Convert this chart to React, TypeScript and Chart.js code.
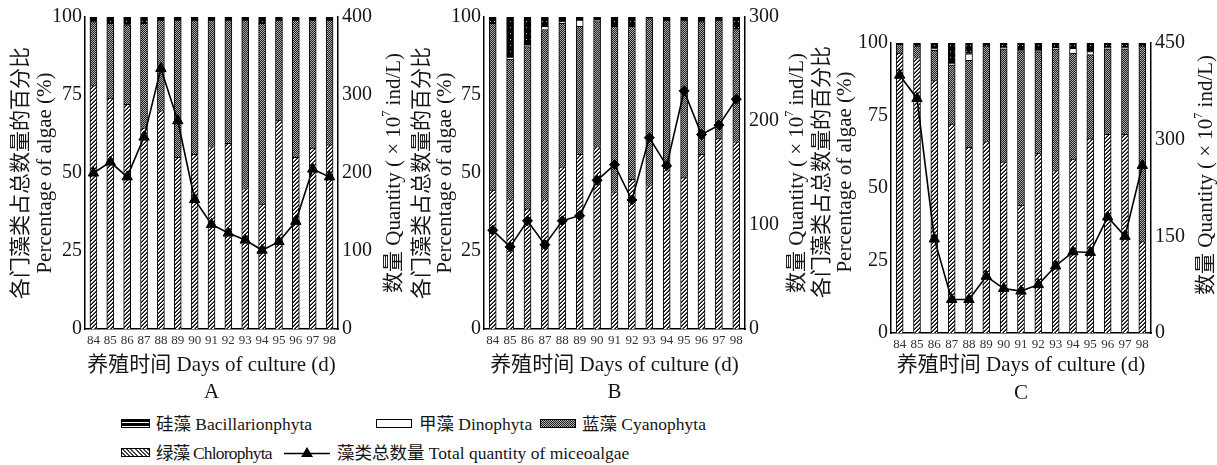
import React, { useEffect, useRef } from 'react';
import { Chart, registerables } from 'chart.js';
Chart.register(...registerables);

// ---------------- data ----------------
const days = ['84', '85', '86', '87', '88', '89', '90', '91', '92', '93', '94', '95', '96', '97', '98'];

// Panel A (% of algae per phylum, stacked) and total quantity (x10^7 ind/L)
const chloroA = [78, 74, 72, 64.5, 70, 55, 56, 58.5, 59.5, 45, 40, 67, 55, 58, 59];
const cyanoA = [20.5, 24, 25.5, 33.5, 29, 44, 43, 40.5, 39.5, 54, 58, 32, 44, 41, 40];
const dinoA = [0, 0, 0, 0, 0, 0, 0, 0, 0, 0, 0, 0, 0, 0, 0];
const bacA = [1.5, 2, 2.5, 2, 1, 1, 1, 1, 1, 1, 2, 1, 1, 1, 1];
const totalA = [200, 214, 195, 246, 334, 267, 166, 134, 123, 114, 101, 112, 138, 205, 195];

// Panel B
const chloroB = [44.5, 41.5, 38.5, 41.5, 52, 56, 58.5, 44, 48, 46, 53, 48.5, 56, 61, 60];
const cyanoB = [53.5, 45, 52, 54.5, 46, 41, 40, 53, 49, 53.5, 46, 50.5, 42.5, 38, 36];
const dinoB = [0, 0.5, 0.5, 1, 0.5, 2, 0.5, 0, 0, 0, 0, 0, 0, 0, 0];
const bacB = [2, 13, 9, 3, 1.5, 1, 1, 3, 3, 0.5, 1, 1, 1.5, 1, 4];
const totalB = [95, 79, 104, 81, 104, 109, 143, 158, 124, 184, 157, 229, 187, 196, 221];

// Panel C
const chloroC = [96.5, 95, 87, 72, 64, 66, 59, 44, 62, 56, 60, 67, 68.5, 68.5, 31.5];
const cyanoC = [3, 4, 10.5, 20.5, 30, 33, 39, 53, 35, 42, 36.5, 29, 29.5, 29.5, 67.5];
const dinoC = [0, 0, 0.5, 0.5, 2.3, 0, 0.5, 0.5, 0.5, 0.3, 1.7, 1, 0.5, 0.5, 0];
const bacC = [0.5, 1, 2, 7, 3.7, 1, 1.5, 2.5, 2.5, 1.7, 1.8, 3, 1.5, 1.5, 1];
const totalC = [400, 364, 146, 52, 52, 88, 69, 65, 75, 104, 126, 125, 180, 150, 260];

const pctTicks = [0, 25, 50, 75, 100];
const qMaxA = 400, qStepA = 100;
const qMaxB = 300, qStepB = 100;
const qMaxC = 450, qStepC = 150;

const X_TITLE = '养殖时间 Days of culture (d)';
const Y_TITLE_CN = '各门藻类占总数量的百分比';
const Y_TITLE_EN = 'Percentage of algae (%)';

// ---------------- styling ----------------
const FF = '"Liberation Serif", "Noto Sans CJK SC", serif';
const INK = '#151515';

const panels = [
  {
    letter: 'A', chloro: chloroA, cyano: cyanoA, dino: dinoA, bac: bacA, total: totalA,
    qMax: qMaxA, qStep: qStepA, marker: 'triangle',
    x: 0, w: 410, h: 410, area: { left: 85, right: 338, top: 17, bottom: 329 },
    leftX1: 21, leftX2: 45, yCY: 173, rightX: 394, rCY: 173, xTitleY: 365, letterY: 392,
  },
  {
    letter: 'B', chloro: chloroB, cyano: cyanoB, dino: dinoB, bac: bacB, total: totalB,
    qMax: qMaxB, qStep: qStepB, marker: 'rectRot',
    x: 400, w: 410, h: 410, area: { left: 84, right: 345, top: 17, bottom: 329 },
    leftX1: 22, leftX2: 45, yCY: 173, rightX: 397, rCY: 173, xTitleY: 365, letterY: 392,
  },
  {
    letter: 'C', chloro: chloroC, cyano: cyanoC, dino: dinoC, bac: bacC, total: totalC,
    qMax: qMaxC, qStep: qStepC, marker: 'triangle',
    x: 800, w: 417, h: 410, area: { left: 91, right: 351, top: 43, bottom: 333 },
    leftX1: 22, leftX2: 45, yCY: 172, rightX: 406, rCY: 175, xTitleY: 365, letterY: 393,
  },
];

function makePattern(ctx: CanvasRenderingContext2D, w: number, h: number, draw: (g: CanvasRenderingContext2D) => void) {
  const c = document.createElement('canvas');
  c.width = w;
  c.height = h;
  const g = c.getContext('2d')!;
  draw(g);
  return ctx.createPattern(c, 'repeat')!;
}

function PanelChart({ p }: { p: any }) {
  const ref = useRef<HTMLCanvasElement>(null);
  useEffect(() => {
    const canvas = ref.current!;
    const ctx = canvas.getContext('2d')!;
    const patChloro = makePattern(ctx, 4, 4, (g) => {
      g.fillStyle = '#fff';
      g.fillRect(0, 0, 4, 4);
      for (let x = 0; x < 4; x++)
        for (let y = 0; y < 4; y++) {
          const k = (x + y) % 4;
          if (k === 3) { g.fillStyle = '#000'; g.fillRect(x, y, 1, 1); }
          if (k === 2) { g.fillStyle = '#555'; g.fillRect(x, y, 1, 1); }
        }
    });
    const patCyano = makePattern(ctx, 2, 2, (g) => {
      g.fillStyle = '#222';
      g.fillRect(0, 0, 2, 2);
      g.fillStyle = '#ababab';
      g.fillRect(0, 0, 1, 1);
      g.fillRect(1, 1, 1, 1);
    });
    const patBac = makePattern(ctx, 4, 6, (g) => {
      g.fillStyle = '#000';
      g.fillRect(0, 0, 4, 6);
      g.fillStyle = '#bbb';
      g.fillRect(2, 3, 1, 1);
    });

    const textPlugin = {
      id: 'panelText',
      afterDraw(chart: any) {
        const c = chart.ctx as CanvasRenderingContext2D;
        const ca = chart.chartArea;
        c.save();
        c.fillStyle = INK;
        c.textBaseline = 'middle';
        c.textAlign = 'center';
        c.font = `21px ${FF}`;
        const cx = (ca.left + ca.right) / 2;
        c.fillText(X_TITLE, cx, p.xTitleY);
        c.fillText(p.letter, cx, p.letterY);
        c.save();
        c.translate(p.leftX1, p.yCY);
        c.rotate(-Math.PI / 2);
        c.fillText(Y_TITLE_CN, 0, 0);
        c.restore();
        c.save();
        c.translate(p.leftX2, p.yCY);
        c.rotate(-Math.PI / 2);
        c.fillText(Y_TITLE_EN, 0, 0);
        c.restore();
        // right title with superscript
        c.save();
        c.translate(p.rightX, p.rCY);
        c.rotate(-Math.PI / 2);
        c.textAlign = 'left';
        const big = `21px ${FF}`;
        const small = `12px ${FF}`;
        const t1 = '数量 Quantity ( × 10';
        const t2 = '7';
        const t3 = ' ind/L)';
        c.font = big;
        const w1 = c.measureText(t1).width;
        const w3 = c.measureText(t3).width;
        c.font = small;
        const w2 = c.measureText(t2).width;
        let x = -(w1 + w2 + w3) / 2;
        c.font = big;
        c.fillText(t1, x, 0);
        x += w1;
        c.font = small;
        c.fillText(t2, x, -7);
        x += w2;
        c.font = big;
        c.fillText(t3, x, 0);
        c.restore();
        c.restore();
      },
    };

    const barCommon = {
      borderColor: '#000',
      borderWidth: 1,
      barThickness: 7,
      stack: 's',
      order: 2,
      yAxisID: 'y',
    };

    const chart = new Chart(canvas, {
      type: 'bar',
      data: {
        labels: days,
        datasets: [
          {
            type: 'line',
            label: '藻类总数量 Total quantity of miceoalgae',
            data: p.total,
            yAxisID: 'y1',
            borderColor: '#000',
            borderWidth: 1.6,
            pointStyle: p.marker,
            pointRadius: p.marker === 'triangle' ? 6 : 5,
            pointBackgroundColor: '#000',
            pointBorderColor: '#000',
            pointBorderWidth: 1,
            tension: 0,
            order: 0,
          } as any,
          { ...barCommon, label: '绿藻 Chlorophyta', data: p.chloro, backgroundColor: patChloro },
          { ...barCommon, label: '蓝藻 Cyanophyta', data: p.cyano, backgroundColor: patCyano },
          { ...barCommon, label: '甲藻 Dinophyta', data: p.dino, backgroundColor: '#fff' },
          { ...barCommon, label: '硅藻 Bacillarionphyta', data: p.bac, backgroundColor: patBac },
        ],
      },
      options: {
        animation: false,
        responsive: false,
        maintainAspectRatio: false,
        layout: { padding: { top: p.area.top, left: 0, right: 0, bottom: 0 } },
        plugins: { legend: { display: false }, tooltip: { enabled: false } },
        scales: {
          x: {
            stacked: true,
            offset: true,
            grid: { display: false, drawTicks: false },
            border: { display: true, color: '#000', width: 1.5 },
            ticks: { font: { family: FF, size: 13 }, color: '#333', padding: 4, maxRotation: 0, autoSkip: false },
            afterFit: (s: any) => { s.height = p.h - p.area.bottom; },
          },
          y: {
            stacked: true,
            min: 0,
            max: 100,
            afterBuildTicks: (s: any) => { s.ticks = pctTicks.map((v) => ({ value: v })); },
            grid: { display: false, drawTicks: false },
            border: { display: true, color: '#000', width: 1.5 },
            ticks: { font: { family: FF, size: 20 }, color: INK, padding: 3 },
            afterFit: (s: any) => { s.width = p.area.left; },
          },
          y1: {
            position: 'right',
            min: 0,
            max: p.qMax,
            ticks: { stepSize: p.qStep, font: { family: FF, size: 20 }, color: INK, padding: 4 },
            grid: { display: false, drawTicks: false },
            border: { display: true, color: '#000', width: 1.5 },
            afterFit: (s: any) => { s.width = p.w - p.area.right; },
          },
        },
      } as any,
      plugins: [textPlugin],
    });
    return () => chart.destroy();
  }, []);
  return (
    <canvas
      ref={ref}
      width={p.w}
      height={p.h}
      style={{ position: 'absolute', left: p.x, top: 0, width: p.w, height: p.h }}
    />
  );
}

const legendText: React.CSSProperties = {
  position: 'absolute',
  fontFamily: FF,
  fontSize: 17.5,
  color: INK,
  height: 22,
  lineHeight: '22px',
  whiteSpace: 'nowrap',
};

function Legend() {
  const sw = (left: number, top: number, w: number, bg: string, extra: React.CSSProperties = {}) => (
    <div
      style={{
        position: 'absolute', left, top, width: w, height: 9, border: '1.2px solid #000',
        background: bg, boxSizing: 'border-box', ...extra,
      }}
    />
  );
  return (
    <>
      {sw(121, 419, 29, 'repeating-linear-gradient(to bottom, #000 0 2px, #fff 2px 3.5px)')}
      <div style={{ ...legendText, left: 156, top: 413 }}>硅藻 Bacillarionphyta</div>
      {sw(376, 419, 36, '#fff', { border: '1.5px solid #000' })}
      <div style={{ ...legendText, left: 419, top: 413 }}>甲藻 Dinophyta</div>
      {sw(540, 419, 36, 'repeating-conic-gradient(#222 0 25%, #ababab 0 50%) 0 0 / 2px 2px')}
      <div style={{ ...legendText, left: 582, top: 413 }}>蓝藻 Cyanophyta</div>

      {sw(121, 448, 29, 'repeating-linear-gradient(45deg, #fff 0 1.5px, #444 1.5px 3px)')}
      <div style={{ ...legendText, left: 156, top: 442, letterSpacing: '-0.8px' }}>绿藻 Chlorophyta</div>
      <svg style={{ position: 'absolute', left: 283, top: 443 }} width={48} height={20}>
        <line x1={1} y1={10.5} x2={47} y2={10.5} stroke="#000" strokeWidth={1.5} />
        <polygon points="24,4 30,14 18,14" fill="#000" />
      </svg>
      <div style={{ ...legendText, left: 337, top: 442 }}>藻类总数量 Total quantity of miceoalgae</div>
    </>
  );
}

export default function App() {
  return (
    <div style={{ position: 'absolute', left: 0, top: 0, width: 1217, height: 465, background: '#fff', overflow: 'hidden' }}>
      {panels.map((p) => (
        <PanelChart key={p.letter} p={p} />
      ))}
      <Legend />
    </div>
  );
}
